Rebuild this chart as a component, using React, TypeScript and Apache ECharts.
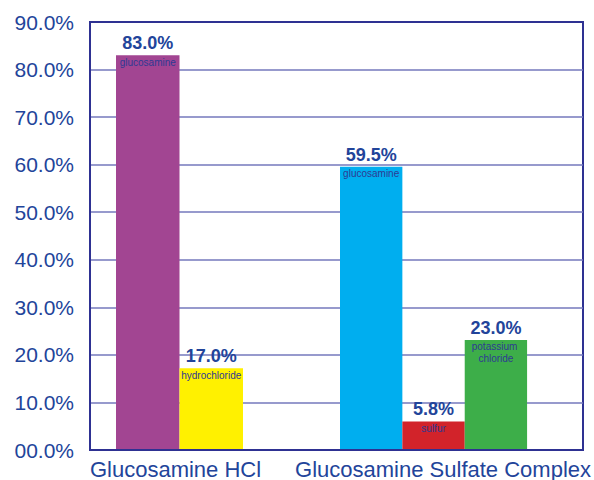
import React, { useEffect, useRef } from "react";
import * as echarts from "echarts";

const groups = ["Glucosamine HCl", "Glucosamine Sulfate Complex"];
const hclComponents = ["glucosamine", "hydrochloride"];
const hclValues = [83.0, 17.0];
const hclColors = ["#A24592", "#FFF100"];
const sulfateComponents = ["glucosamine", "sulfur", "potassium chloride"];
const sulfateValues = [59.5, 5.8, 23.0];
const sulfateColors = ["#00AEEF", "#D2232A", "#3DAE49"];
const yMin = 0;
const yMax = 90;
const yInterval = 10;

const FONT = "'Liberation Sans', Arial, sans-serif";
const TEXT = "#22449A";
const NAME_TEXT = "#2E3A92";
const NAVY = "#2E3192";
const GRIDLINE = "#7478BD";

function groupSeries(axisIndex: number, names: string[], values: number[], colors: string[]) {
  return [
    {
      type: "bar",
      xAxisIndex: axisIndex,
      yAxisIndex: axisIndex,
      barGap: "-100%",
      barCategoryGap: "0%",
      data: values.map((v, i) => ({ value: v, itemStyle: { color: colors[i] } })),
      label: {
        show: true,
        position: "top",
        distance: 3,
        formatter: (p: any) => p.value.toFixed(1) + "%",
        fontFamily: FONT,
        fontSize: 18,
        fontWeight: "bold",
        color: TEXT,
      },
    },
    {
      type: "bar",
      xAxisIndex: axisIndex,
      yAxisIndex: axisIndex,
      barGap: "-100%",
      barCategoryGap: "0%",
      data: values,
      itemStyle: { color: "rgba(0,0,0,0)" },
      label: {
        show: true,
        position: "insideTop",
        distance: 1,
        formatter: "{b}",
        fontFamily: FONT,
        fontSize: 10,
        lineHeight: 12,
        width: 66,
        overflow: "break",
        color: NAME_TEXT,
      },
    },
  ];
}

export default function App() {
  const ref = useRef<HTMLDivElement>(null);
  useEffect(() => {
    if (!ref.current) return;
    const chart = echarts.init(ref.current, undefined, { renderer: "svg" });
    const hiddenY = (gi: number) => ({ type: "value", gridIndex: gi, min: yMin, max: yMax, interval: yInterval, show: false });
    const groupLabelAxis = (gi: number, name: string, padding: number[]) => ({
      type: "category",
      gridIndex: gi,
      position: "bottom",
      data: [name],
      axisLine: { show: false },
      axisTick: { show: false },
      splitLine: { show: false },
      axisLabel: {
        fontFamily: FONT,
        fontSize: 22,
        color: TEXT,
        margin: 9,
        padding,
      },
    });
    chart.setOption({
      animation: false,
      backgroundColor: "#ffffff",
      grid: [
        { left: 90, right: 11, top: 22, bottom: 30, show: true, borderColor: NAVY, borderWidth: 2, backgroundColor: "transparent" },
        { left: 116, width: 127, top: 22, bottom: 30 },
        { left: 340, width: 191, top: 22, bottom: 30 },
      ],
      xAxis: [
        {
          type: "category",
          gridIndex: 0,
          data: groups,
          axisLine: { show: true, lineStyle: { color: NAVY, width: 2 } },
          axisTick: { show: false },
          axisLabel: { show: false },
        },
        { type: "category", gridIndex: 1, data: hclComponents, show: false },
        { type: "category", gridIndex: 2, data: sulfateComponents, show: false },
        groupLabelAxis(1, groups[0], [0, 8, 0, 0]),
        groupLabelAxis(2, groups[1], [0, 0, 0, 19]),
      ],
      yAxis: [
        {
          type: "value",
          gridIndex: 0,
          min: yMin,
          max: yMax,
          interval: yInterval,
          axisLine: { show: true, lineStyle: { color: NAVY, width: 2 } },
          axisTick: { show: false },
          splitLine: { show: true, showMinLine: false, showMaxLine: false, lineStyle: { color: GRIDLINE, width: 1.5 } },
          axisLabel: {
            fontFamily: FONT,
            fontSize: 21,
            color: TEXT,
            margin: 16,
            formatter: (v: number) => v.toFixed(1).padStart(4, "0") + "%",
          },
        },
        hiddenY(1),
        hiddenY(2),
      ],
      series: [
        ...groupSeries(1, hclComponents, hclValues, hclColors),
        ...groupSeries(2, sulfateComponents, sulfateValues, sulfateColors),
      ],
    });
    return () => chart.dispose();
  }, []);
  return <div ref={ref} style={{ position: "fixed", left: 0, top: 0, width: 594, height: 480 }} />;
}
